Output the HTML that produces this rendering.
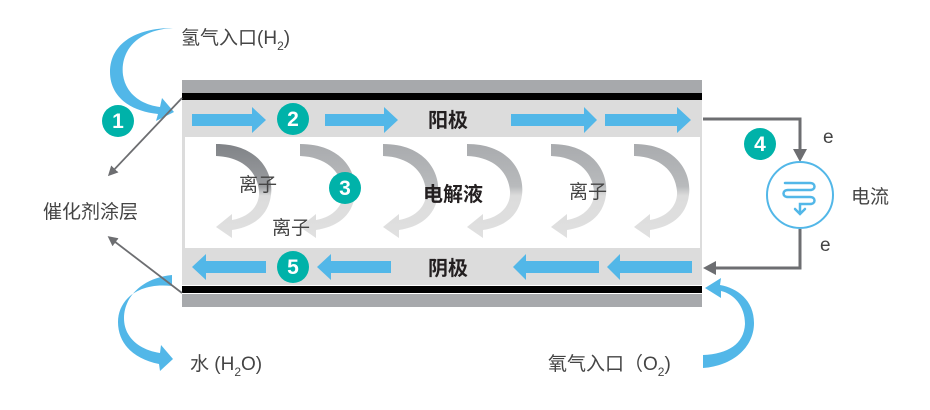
<!DOCTYPE html>
<html><head><meta charset="utf-8"><style>
body{margin:0;background:#fff;}
svg{display:block;font-family:"Liberation Sans","Noto Sans CJK SC",sans-serif;}
</style></head><body>
<svg width="930" height="410" viewBox="0 0 930 410" xmlns="http://www.w3.org/2000/svg">
<defs>
<linearGradient id="ion" x1="0" y1="0" x2="0" y2="1">
<stop offset="0" stop-color="#a9abae"/><stop offset="0.45" stop-color="#b8babc"/><stop offset="0.55" stop-color="#dcdcdc"/><stop offset="1" stop-color="#e0e0e0"/></linearGradient>
<linearGradient id="ion1" x1="0" y1="0" x2="0" y2="1">
<stop offset="0" stop-color="#808387"/><stop offset="0.45" stop-color="#9a9c9f"/><stop offset="0.55" stop-color="#dcdcdc"/><stop offset="1" stop-color="#e0e0e0"/></linearGradient>
<path id="ia" d="M0,144 C42,144 58,172 55,195 C52,217 36,227 16,230 L16,238 L0,227 L16,214 L16,220 C33,217 44,206 43,191 C41,170 25,157 0,156 Z"/>
<marker id="ah" markerWidth="10" markerHeight="10" refX="7" refY="5" orient="auto" markerUnits="userSpaceOnUse"><path d="M0,0 L10,5 L0,10 Z" fill="#6d6e71"/></marker>
</defs>
<rect x="182" y="80" width="520" height="13" fill="#a7a9ac"/>
<rect x="182" y="93" width="520" height="7" fill="#000"/>
<rect x="182" y="100" width="520" height="37" fill="#dcdcdc"/>
<rect x="182" y="137" width="520" height="111" fill="#dcdcdc"/>
<rect x="185" y="137" width="515" height="111" fill="#fff"/>
<rect x="182" y="248" width="520" height="37" fill="#dcdcdc"/>
<rect x="182" y="286" width="520" height="7" fill="#000"/>
<rect x="182" y="294" width="520" height="13" fill="#a7a9ac"/>
<use href="#ia" x="216" fill="url(#ion1)"/>
<use href="#ia" x="300" fill="url(#ion)"/>
<use href="#ia" x="383" fill="url(#ion)"/>
<use href="#ia" x="467" fill="url(#ion)"/>
<use href="#ia" x="551" fill="url(#ion)"/>
<use href="#ia" x="634" fill="url(#ion)"/>
<g fill="#52b7e8">
<path d="M192,114 H252 V107 L266,120 L252,133 V126 H192 Z"/>
<path d="M325,114 H384 V107 L398,120 L384,133 V126 H325 Z"/>
<path d="M511,114 H584 V107 L597,120 L584,133 V126 H511 Z"/>
<path d="M605,114 H677 V107 L691,120 L677,133 V126 H605 Z"/>
<path d="M266,261 H206 V254 L192,267 L206,280 V273 H266 Z"/>
<path d="M391,261 H331 V254 L317,267 L331,280 V273 H391 Z"/>
<path d="M599,261 H526 V254 L513,267 L526,280 V273 H599 Z"/>
<path d="M692,261 H620 V254 L607,267 L620,280 V273 H692 Z"/>
<path d="M173,28 C136,30 120,52 123,75 C126,95 143,105 160,107 L162,98 L174,112 L156,121 L158,114 C128,111 110,95 110,72 C110,44 135,28 173,28 Z"/>
<path d="M172,275 C142,278 124,297 124,318 C124,338 140,350 160,353 L161,345 L173,359 L160,371 L159,364 C134,359 118,344 118,322 C118,300 138,282 172,286 Z"/>
<path d="M703,368 C732,366 754,348 754,323 C754,300 737,288 720,285 L721,278 L705,288 L721,298 L721,291 C734,294 745,306 745,324 C744,344 728,354 703,355 Z"/>
</g>
<line x1="182" y1="98" x2="110" y2="174" stroke="#6d6e71" stroke-width="1.8" marker-end="url(#ah)"/>
<line x1="182" y1="293" x2="110" y2="238" stroke="#6d6e71" stroke-width="1.8" marker-end="url(#ah)"/>
<path d="M703,119 H800 V155" fill="none" stroke="#6d6e71" stroke-width="3"/>
<path d="M793,149 L807,149 L800,162 Z" fill="#6d6e71"/>
<path d="M800,229 V268 H712" fill="none" stroke="#6d6e71" stroke-width="3"/>
<path d="M716,261 L716,275 L703,268 Z" fill="#6d6e71"/>
<circle cx="800" cy="195" r="33" fill="#fff" stroke="#52b7e8" stroke-width="2"/>
<path d="M785,183 H810 C816,183 816,190 810,190 H788 C782,190 782,197 788,197 H810 C816,197 816,204 810,204 H800 V213 M795,209 L800,214 L805,209" fill="none" stroke="#52b7e8" stroke-width="2.5" stroke-linecap="round"/>
<g fill="#00b2a9"><circle cx="118" cy="121" r="16"/><circle cx="293" cy="119" r="16"/><circle cx="345" cy="188" r="16"/><circle cx="760" cy="144" r="16"/><circle cx="293" cy="267" r="16"/></g>
<g fill="#fff" font-weight="bold" font-size="21" text-anchor="middle">
<text x="118" y="128">1</text><text x="293" y="126">2</text><text x="345" y="195">3</text><text x="760" y="151">4</text><text x="293" y="274">5</text></g>
<g font-weight="bold" font-size="20" fill="#231f20" text-anchor="middle">
<text x="448" y="127">阳极</text><text x="448" y="275">阴极</text><text x="453" y="201">电解液</text></g>
<g font-size="19" fill="#444">
<text x="239" y="191">离子</text><text x="272" y="234">离子</text><text x="569" y="198">离子</text>
<text x="181" y="44">氢气入口(H<tspan font-size="12" dy="6">2</tspan><tspan dy="-6">)</tspan></text>
<text x="43" y="218">催化剂涂层</text>
<text x="190" y="370">水 (H<tspan font-size="12" dy="6">2</tspan><tspan dy="-6">O)</tspan></text>
<text x="548" y="370">氧气入口（O<tspan font-size="12" dy="6">2</tspan><tspan dy="-6">)</tspan></text>
<text x="851" y="203">电流</text>
<text x="823" y="143">e</text><text x="820" y="251">e</text>
</g>
</svg>
</body></html>
